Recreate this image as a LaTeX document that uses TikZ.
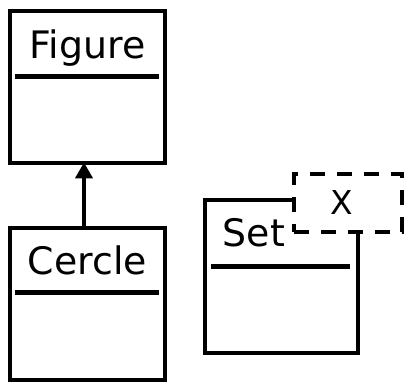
\documentclass[tikz,border=0pt]{standalone}
\usepackage{fontspec}
\setmainfont{DejaVu Sans}
\usetikzlibrary{arrows.meta,calc}
\begin{document}
\begin{tikzpicture}[x=1bp,y=-1bp,
  umlbox/.style={draw,line width=4.8bp,inner sep=0pt,fill=white},
  sepline/.style={line width=4.8bp},
  lbl/.style={inner sep=0pt,font=\fontsize{38}{44}\selectfont},
  smalllbl/.style={inner sep=0pt,font=\fontsize{33}{38}\selectfont},
  tmpl/.style={draw,line width=4.8bp,inner sep=0pt,fill=white,dash pattern=on 15bp off 12bp},
  inherit/.style={line width=4.8bp,shorten >=-3bp,-{Triangle[length=16bp,width=17bp]}}]
\useasboundingbox (0,0) rectangle (404,382);
% Figure class
\node[umlbox,minimum width=155bp,minimum height=152bp] (figure) at (87.5,87) {};
\node[lbl,anchor=base] (figtxt) at (87.5,58) {Figure};
\draw[sepline] ($(figure.north west)+(7,68)$) -- ($(figure.north east)+(-8,68)$);
% Cercle class
\node[umlbox,minimum width=155bp,minimum height=152bp] (cercle) at (87.5,304) {};
\node[lbl,anchor=base] (certxt) at (87.5,274) {Cercle};
\draw[sepline] ($(cercle.north west)+(7,67)$) -- ($(cercle.north east)+(-8,67)$);
% inheritance arrow
\coordinate (ax) at (84,0);
\draw[inherit] (ax |- cercle.north) -- (ax |- figure.south);
% Set class
\node[umlbox,minimum width=153bp,minimum height=153bp] (set) at (281.5,276.5) {};
\node[lbl,anchor=base west] (settxt) at (222.5,246) {Set};
\draw[sepline] ($(set.north west)+(8,69)$) -- ($(set.north east)+(-10,69)$);
% template parameter
\node[tmpl,minimum width=108bp,minimum height=58bp] (tpl) at (348,203) {};
\node[smalllbl,anchor=base] (tpltxt) at (342,214) {X};
\end{tikzpicture}
\end{document}
